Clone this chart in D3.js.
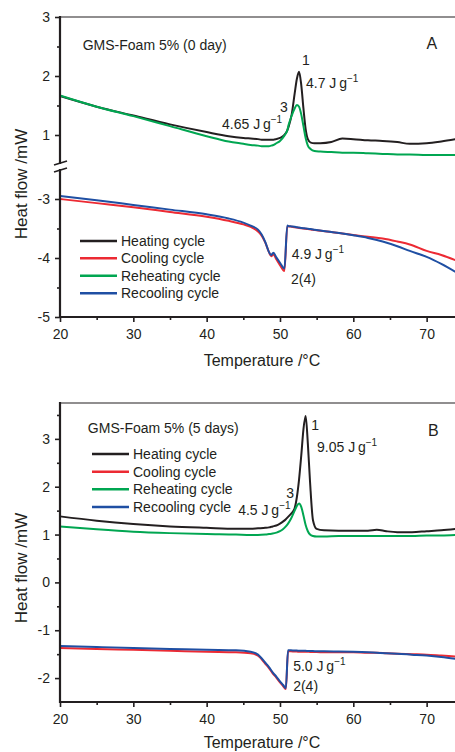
<!DOCTYPE html>
<html>
<head>
<meta charset="utf-8">
<script src="https://cdn.jsdelivr.net/npm/d3@7"></script>
<style>
  body { margin: 0; background: #fff; }
  svg { display: block; }
  text { font-family: "Liberation Sans", Arial, sans-serif; fill: #231f20; }
</style>
</head>
<body>
<div id="chart"></div>
<script>
// Temperature grids (°C) shared by the series of each panel
const tempA = [20, 25, 30, 35, 40, 43, 45, 46, 47, 47.5, 48, 48.5, 48.8, 49.1, 49.5, 50, 50.6, 51, 51.2, 51.6,
  52, 52.3, 52.6, 52.9, 53.2, 53.5, 53.8, 54.2, 54.7, 55.5, 57, 58.5, 60, 62, 64, 66, 67.7, 70, 72, 74];
const tempB = [20, 25, 30, 35, 40, 44, 46, 47, 48, 48.5, 49, 49.5, 50, 50.4, 50.8, 51.1, 51.5, 52, 52.3, 52.6,
  52.9, 53.2, 53.5, 53.8, 54.1, 54.5, 55, 56, 58, 60, 62, 63.2, 64.5, 66, 68, 70, 72, 74];

// Panel A (0 day), heat flow in mW
const heatingA = [1.66, 1.48, 1.33, 1.18, 1.05, 0.98, 0.95, 0.94, 0.93, 0.92, 0.92, 0.92, 0.92, 0.92, 0.93, 0.95, 1.0, 1.08, 1.15, 1.35,
  1.7, 1.95, 2.07, 1.85, 1.45, 1.1, 0.93, 0.87, 0.86, 0.86, 0.88, 0.94, 0.93, 0.91, 0.9, 0.88, 0.85, 0.86, 0.89, 0.93];
const reheatingA = [1.67, 1.48, 1.32, 1.15, 0.98, 0.89, 0.85, 0.83, 0.82, 0.81, 0.81, 0.81, 0.82, 0.83, 0.86, 0.9, 0.99, 1.08, 1.18, 1.33,
  1.45, 1.51, 1.48, 1.35, 1.15, 0.95, 0.82, 0.76, 0.73, 0.72, 0.71, 0.7, 0.7, 0.69, 0.68, 0.67, 0.67, 0.66, 0.66, 0.66];
const coolingA = [-3.0, -3.07, -3.14, -3.22, -3.3, -3.37, -3.43, -3.47, -3.55, -3.62, -3.74, -3.9, -3.97, -3.94, -4.02, -4.12, -4.22, -3.46, -3.465, -3.47,
  -3.48, -3.485, -3.49, -3.495, -3.5, -3.505, -3.51, -3.515, -3.525, -3.54, -3.56, -3.585, -3.61, -3.64, -3.67, -3.72, -3.77, -3.88, -3.95, -4.04];
const recoolingA = [-2.95, -3.02, -3.1, -3.18, -3.26, -3.33, -3.4, -3.45, -3.52, -3.6, -3.73, -3.9, -3.95, -3.91, -3.99, -4.08, -4.18, -3.45, -3.46, -3.465,
  -3.47, -3.48, -3.485, -3.49, -3.495, -3.5, -3.505, -3.51, -3.52, -3.535, -3.56, -3.585, -3.615, -3.66, -3.72, -3.8, -3.88, -3.98, -4.1, -4.24];

// Panel B (5 days)
const heatingB = [1.38, 1.29, 1.22, 1.17, 1.14, 1.12, 1.12, 1.13, 1.14, 1.15, 1.17, 1.19, 1.23, 1.27, 1.32, 1.37, 1.43, 1.55, 1.78, 2.15,
  2.65, 3.2, 3.48, 2.9, 2.1, 1.3, 1.12, 1.09, 1.08, 1.08, 1.08, 1.1, 1.07, 1.05, 1.05, 1.07, 1.09, 1.12];
const reheatingB = [1.17, 1.11, 1.06, 1.03, 1.01, 1.0, 0.99, 0.99, 1.0, 1.01, 1.02, 1.04, 1.07, 1.11, 1.17, 1.23, 1.33, 1.5, 1.6, 1.65,
  1.58, 1.4, 1.2, 1.07, 1.0, 0.97, 0.96, 0.96, 0.97, 0.97, 0.97, 0.97, 0.97, 0.97, 0.97, 0.98, 0.98, 0.99];
const coolingB = [-1.37, -1.39, -1.41, -1.43, -1.45, -1.46, -1.48, -1.53, -1.7, -1.79, -1.9, -1.99, -2.09, -2.16, -2.23, -1.44, -1.44, -1.445, -1.445, -1.45,
  -1.45, -1.45, -1.45, -1.45, -1.455, -1.455, -1.455, -1.46, -1.46, -1.46, -1.47, -1.47, -1.48, -1.49, -1.5, -1.51, -1.53, -1.55];
const recoolingB = [-1.33, -1.35, -1.37, -1.39, -1.41, -1.42, -1.45, -1.51, -1.68, -1.77, -1.88, -1.97, -2.07, -2.14, -2.21, -1.42, -1.42, -1.425, -1.425, -1.43,
  -1.43, -1.43, -1.43, -1.435, -1.435, -1.435, -1.44, -1.44, -1.445, -1.45, -1.46, -1.47, -1.48, -1.49, -1.51, -1.53, -1.56, -1.6];

const seriesNames = ["Heating cycle", "Cooling cycle", "Reheating cycle", "Recooling cycle"];
const seriesColors = ["#231f20", "#ec2a33", "#00a651", "#1f4fa3"];

const width = 455, height = 752;
const svg = d3.select("#chart").append("svg")
  .attr("width", width)
  .attr("height", height);

const x = d3.scaleLinear().domain([20, 75]).range([60, 463.3]);

// panel A uses a broken y axis: upper part for heating, lower part for cooling
const yAUp = d3.scaleLinear().domain([0.5, 3]).range([164.5, 17]);
const yALow = d3.scaleLinear().domain([-5, -2.5]).range([317, 169.5]);
const yB = d3.scaleLinear().domain([-2.5, 3.75]).range([702, 403]);

function drawXAxis(y0) {
  const gx = svg.append("g").attr("transform", `translate(0,${y0})`);
  gx.call(d3.axisBottom(x).tickValues([20, 30, 40, 50, 60, 70]).tickSize(5).tickSizeOuter(0).tickPadding(7));
  gx.append("g").call(d3.axisBottom(x).tickValues([25, 35, 45, 55, 65]).tickSize(3).tickFormat(""));
  gx.selectAll(".domain").remove();
  gx.selectAll("line").attr("stroke", "#231f20").attr("stroke-width", 1.6);
  gx.selectAll("text").style("font-size", "14px").attr("fill", "#231f20");
  gx.append("line").attr("x1", 59).attr("x2", width).attr("stroke", "#231f20").attr("stroke-width", 2.2);
}

function drawYTicks(scale, major, minor) {
  const gy = svg.append("g").attr("transform", "translate(60,0)");
  // plain hyphen for negatives, as in the original figure
  gy.call(d3.axisLeft(scale).tickValues(major).tickSize(5).tickPadding(5).tickFormat(d => String(d)));
  gy.append("g").call(d3.axisLeft(scale).tickValues(minor).tickSize(3).tickFormat(""));
  gy.selectAll(".domain").remove();
  gy.selectAll("line").attr("stroke", "#231f20").attr("stroke-width", 1.6);
  gy.selectAll("text").style("font-size", "14px").attr("fill", "#231f20");
}

function drawCurve(temps, vals, scale, color) {
  const line = d3.line()
    .x((d, i) => x(temps[i]))
    .y(d => scale(d))
    .curve(d3.curveMonotoneX);
  svg.append("path")
    .datum(vals)
    .attr("d", line)
    .attr("fill", "none")
    .attr("stroke", color)
    .attr("stroke-width", 2)
    .attr("stroke-linejoin", "round");
}

function energyLabel(px, py, value) {
  const t = svg.append("text").attr("x", px).attr("y", py).style("font-size", "14px");
  t.append("tspan").text(value + " J\u2009g");
  t.append("tspan").attr("dy", -6).style("font-size", "10px").text("\u22121");
}

function plainLabel(px, py, str, anchor, size) {
  svg.append("text")
    .attr("x", px).attr("y", py)
    .attr("text-anchor", anchor || "start")
    .style("font-size", (size || 14) + "px")
    .text(str);
}

function drawLegend(x0, rows) {
  seriesNames.forEach((name, i) => {
    svg.append("line")
      .attr("x1", x0).attr("x2", x0 + 37)
      .attr("y1", rows[i]).attr("y2", rows[i])
      .attr("stroke", seriesColors[i]).attr("stroke-width", 2.5);
    svg.append("text")
      .attr("x", x0 + 41).attr("y", rows[i] + 5)
      .style("font-size", "14px")
      .text(name);
  });
}

// ---------- Panel A ----------
svg.append("line").attr("x1", 60).attr("x2", width).attr("y1", 17).attr("y2", 17)
  .attr("stroke", "#231f20").attr("stroke-width", 1.2);
drawYTicks(yAUp, [1, 2, 3], [1.5, 2.5]);
drawYTicks(yALow, [-5, -4, -3], [-4.5, -3.5]);

drawCurve(tempA, heatingA, yAUp, seriesColors[0]);
drawCurve(tempA, reheatingA, yAUp, seriesColors[2]);
drawCurve(tempA, coolingA, yALow, seriesColors[1]);
drawCurve(tempA, recoolingA, yALow, seriesColors[3]);

// left axis with break marks
svg.append("line").attr("x1", 60).attr("x2", 60).attr("y1", 16).attr("y2", 318)
  .attr("stroke", "#231f20").attr("stroke-width", 2.2);
svg.append("rect").attr("x", 57).attr("y", 164).attr("width", 6).attr("height", 5).attr("fill", "#fff");
[0, 7].forEach(off => {
  svg.append("line")
    .attr("x1", 54).attr("y1", 165 + off)
    .attr("x2", 67).attr("y2", 161 + off)
    .attr("stroke", "#231f20").attr("stroke-width", 1.8);
});
drawXAxis(317);

plainLabel(x(23.1), yAUp(2.44), "GMS-Foam 5% (0 day)");
plainLabel(x(70.7), yAUp(2.46), "A", "middle", 16);
plainLabel(x(53.55), yAUp(2.18), "1", "middle");
energyLabel(x(53.55), yAUp(1.8), "4.7");
plainLabel(x(50.55), yAUp(1.39), "3", "middle");
energyLabel(x(42.1), yAUp(1.1), "4.65");
energyLabel(x(51.6), yALow(-4.02), "4.9");
plainLabel(x(51.5), yALow(-4.44), "2(4)");
drawLegend(80, [241, 258.3, 275.7, 293.3]);

svg.append("text")
  .attr("x", 262).attr("y", 366)
  .attr("text-anchor", "middle")
  .style("font-size", "16px")
  .text("Temperature /\u00b0C");
svg.append("text")
  .attr("transform", "translate(27,184) rotate(-90)")
  .attr("text-anchor", "middle")
  .style("font-size", "17px")
  .text("Heat flow /mW");

// ---------- Panel B ----------
svg.append("line").attr("x1", 60).attr("x2", width).attr("y1", 403).attr("y2", 403)
  .attr("stroke", "#231f20").attr("stroke-width", 1.2);
drawYTicks(yB, [-2, -1, 0, 1, 2, 3], [-1.5, -0.5, 0.5, 1.5, 2.5, 3.5]);

drawCurve(tempB, heatingB, yB, seriesColors[0]);
drawCurve(tempB, reheatingB, yB, seriesColors[2]);
drawCurve(tempB, coolingB, yB, seriesColors[1]);
drawCurve(tempB, recoolingB, yB, seriesColors[3]);

svg.append("line").attr("x1", 60).attr("x2", 60).attr("y1", 402).attr("y2", 703)
  .attr("stroke", "#231f20").attr("stroke-width", 2.2);
drawXAxis(702);

plainLabel(x(23.8), yB(3.13), "GMS-Foam 5% (5 days)");
plainLabel(x(70.9), yB(3.07), "B", "middle", 16);
plainLabel(x(54.8), yB(3.19), "1", "middle");
energyLabel(x(55.05), yB(2.73), "9.05");
plainLabel(x(51.4), yB(1.77), "3", "middle");
energyLabel(x(44.3), yB(1.4), "4.5");
energyLabel(x(51.8), yB(-1.85), "5.0");
plainLabel(x(51.8), yB(-2.27), "2(4)");
drawLegend(92, [454, 471.7, 489.3, 507]);

svg.append("text")
  .attr("x", 262).attr("y", 748)
  .attr("text-anchor", "middle")
  .style("font-size", "16px")
  .text("Temperature /\u00b0C");
svg.append("text")
  .attr("transform", "translate(27,568) rotate(-90)")
  .attr("text-anchor", "middle")
  .style("font-size", "17px")
  .text("Heat flow /mW");
</script>
</body>
</html>
